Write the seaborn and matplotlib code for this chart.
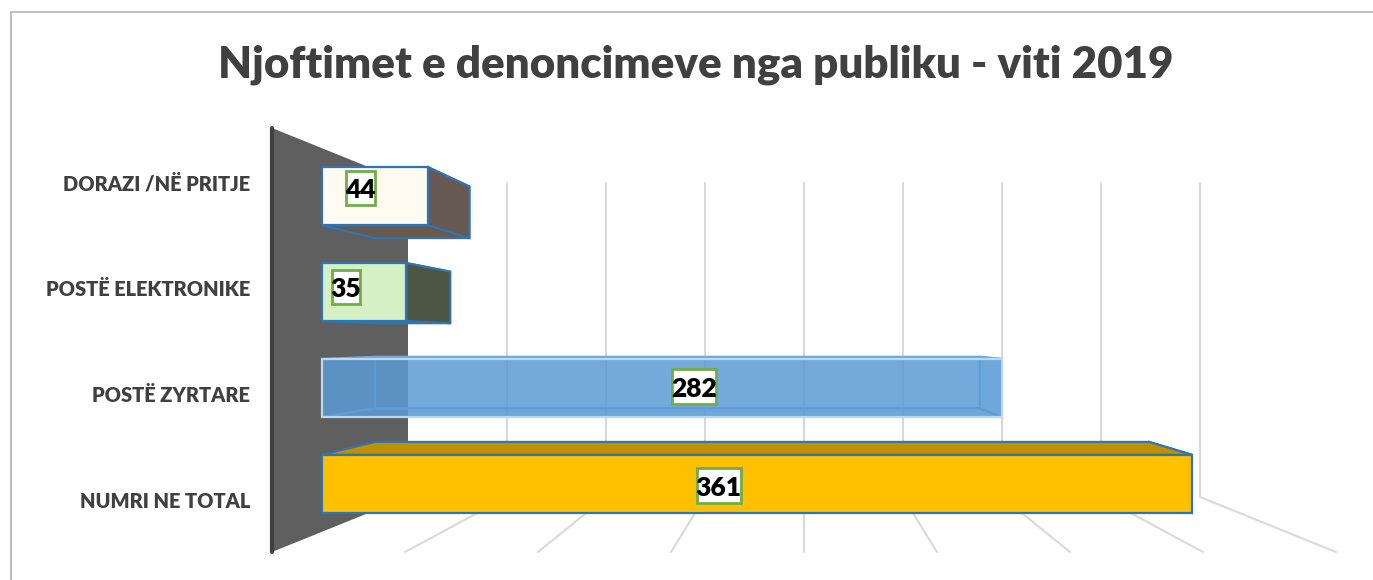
import matplotlib
matplotlib.use("Agg")
import matplotlib.pyplot as plt
import seaborn as sns
from matplotlib.colors import to_rgba
from matplotlib.lines import Line2D
from matplotlib.patches import Polygon, Rectangle

# Data
categories = ["DORAZI /NË PRITJE", "POSTË ELEKTRONIKE", "POSTË ZYRTARE", "NUMRI NE TOTAL"]
values = [44, 35, 282, 361]
axis_ticks = [50, 100, 150, 200, 250, 300, 350, 400]
title = "Njoftimet e denoncimeve nga publiku - viti 2019"

# Colours
front_colors = ["#FFFBF0", "#D5F0C5", to_rgba("#5B9BD5", 0.85), "#FFC000"]
side_colors = ["#665A52", "#4D5544", to_rgba("#5B9BD5", 0.2), "#BF9000"]
edge_colors = ["#2E75B6", "#2E75B6", "#BDD7EE", "#2E75B6"]
inner_edges = ["#2E75B6", "#2E75B6", "#6FA8DC", "#2E75B6"]
wall_color = "#5F5F5F"
grid_color = "#D9D9D9"

# Perspective of the fake 3D box, in pixels. depth 0 = front, 1 = back wall
FIG_W, FIG_H = 1373, 580
BAR_FRONT, BAR_BACK = 0.368, 0.76
BAR_WIDTH = 0.606
AXES_LEFT = 258


def px_x(value, depth):
    return 272 + 136 * depth + value * (2.66 - 0.68 * depth)


def px_y(frac, depth):
    top = 128 + 55 * depth
    bottom = 552 - 55 * depth
    return top + frac * (bottom - top)


# the axes use the bar front plane as their data plane
x_zero = px_x(0, BAR_FRONT)
x_scale = px_x(1, BAR_FRONT) - x_zero
y_zero = px_y(0.125, BAR_FRONT)
y_scale = px_y(0.375, BAR_FRONT) - y_zero


def project(value, frac, depth):
    return ((px_x(value, depth) - x_zero) / x_scale,
            (px_y(frac, depth) - y_zero) / y_scale)


def band_frac(pos):
    return (pos + 0.5) / 4


sns.set_theme(style="white")
plt.rcParams["font.family"] = ["Lato", "DejaVu Sans"]

fig = plt.figure(figsize=(FIG_W / 100, FIG_H / 100), dpi=100)
ax = fig.add_axes([AXES_LEFT / FIG_W, 0, 1 - AXES_LEFT / FIG_W, 1])

palette = dict(zip(categories, front_colors))
sns.barplot(x=values, y=categories, hue=categories, palette=palette, saturation=1,
            width=BAR_WIDTH, legend=False, dodge=False, ax=ax)
front_bars = list(ax.patches)

ax.set_xlim((AXES_LEFT - x_zero) / x_scale, (FIG_W - x_zero) / x_scale)
ax.set_ylim((FIG_H - y_zero) / y_scale, -y_zero / y_scale)
sns.despine(ax=ax, left=True, bottom=True)
ax.set_xticks([])
ax.set_xlabel("")
ax.set_ylabel("")

# Category labels sit on the front plane of the box
label_pos = [project(0, band_frac(i), 0)[1] + 1 / y_scale for i in range(len(categories))]
ax.set_yticks(label_pos, categories)
ax.tick_params(axis="y", length=0, pad=5.8, labelsize=14.4, labelcolor="#404040")
for lab in ax.get_yticklabels():
    lab.set_fontweight("heavy")

# Side wall
wall = [project(0, 0, 0), project(0, 0, 1), project(0, 1, 1), project(0, 1, 0)]
ax.add_patch(Polygon(wall, closed=True, fc=wall_color, ec="none", zorder=1))
wx = [project(0, 0, 0)[0], project(0, 1, 0)[0]]
wy = [project(0, 0, 0)[1], project(0, 1, 0)[1]]
ax.plot(wx, wy, color="#404040", lw=3, solid_capstyle="round", zorder=1.5)

# Grid on back wall and floor
for tick in axis_ticks:
    xs, ys = zip(project(tick, 0, 1), project(tick, 1, 1), project(tick, 1, 0))
    ax.plot(xs, ys, color=grid_color, lw=1.5, solid_joinstyle="miter", zorder=2)

# Bars: hidden faces first, seaborn's front face on top
for i, (val, bar) in enumerate(zip(values, front_bars)):
    f0 = band_frac(i - BAR_WIDTH / 2)
    f1 = band_frac(i + BAR_WIDTH / 2)
    a = project(0, f0, BAR_BACK)
    b = project(val, f0, BAR_BACK)
    c = project(val, f1, BAR_BACK)
    d = project(0, f1, BAR_BACK)
    fa = project(0, f0, BAR_FRONT)
    fb = project(val, f0, BAR_FRONT)
    fc = project(val, f1, BAR_FRONT)
    fd = project(0, f1, BAR_FRONT)
    # top, bottom, then the end of the bar so it hides the other back edges
    faces = [[fa, a, b, fb], [fd, d, c, fc], [fb, b, c, fc]]
    if i == 3:
        # the long bottom bar narrows inwards, so its top has to cover the end
        faces.reverse()
    for face in faces:
        ax.add_patch(Polygon(face, closed=True, fc=side_colors[i], ec=inner_edges[i],
                             lw=1.5, zorder=3))
    if i == 2:
        # the blue bar is see-through, its back edges show
        ax.add_patch(Polygon([a, b, c, d], closed=True, fc="none", ec=inner_edges[i],
                             lw=1.2, zorder=3))
        for p, q in [(fd, d), (fc, c)]:
            ax.plot([p[0], q[0]], [p[1], q[1]], color=inner_edges[i], lw=1.2, zorder=3)
    bar.set_edgecolor(edge_colors[i])
    bar.set_linewidth(1.6)
    bar.set_zorder(4)

# Data labels in green boxes, placed by hand like in the original
label_px = [(360.5, 188), (346, 287), (694, 386.5), (718.5, 485.5)]
box_px = [(29, 34), (28, 34), (44, 35), (44, 35)]
for val, (lx, ly), (bw, bh) in zip(values, label_px, box_px):
    x = (lx - x_zero) / x_scale
    y = (ly - y_zero) / y_scale
    ax.add_patch(Rectangle((x - bw / 2 / x_scale, y - bh / 2 / y_scale), bw / x_scale, bh / y_scale,
                           fc="white", ec="#70AD47", lw=2, zorder=5))
    ax.text(x, y, str(val), ha="center", va="center_baseline", fontsize=19,
            fontweight="heavy", color="black", zorder=6)

# Chart title and outer frame
fig.text(695.5 / FIG_W, 1 - 78 / FIG_H, title, ha="center", va="baseline", fontsize=31.6,
         fontweight="heavy", color="#404040")
fig.add_artist(Line2D([10.5 / FIG_W, 10.5 / FIG_W, 1], [0, 1 - 11.5 / FIG_H, 1 - 11.5 / FIG_H],
                      color="#BFBFBF", lw=1.5, solid_joinstyle="miter"))

plt.savefig("out.png", dpi=100)
plt.close()
